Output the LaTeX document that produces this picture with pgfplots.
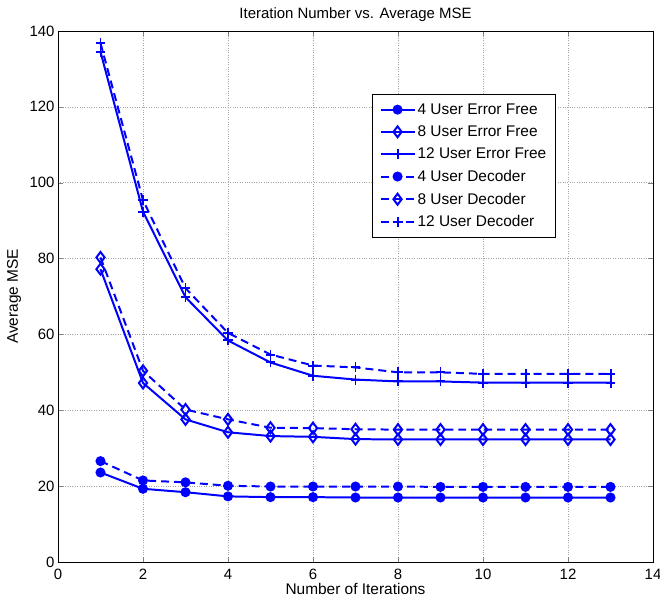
\documentclass[border=0pt]{standalone}
\usepackage{fontspec}
\setmainfont{Liberation Sans}
\usepackage{pgfplots}
\pgfplotsset{compat=1.18}
\begin{document}
\begin{tikzpicture}
\begin{axis}[
  scale only axis,
  width=595bp, height=531bp,
  xmin=0, xmax=14, ymin=0, ymax=140,
  xtick={0,2,...,14}, ytick={0,20,...,140},
  /pgf/number format/assume math mode=true,
  tick label style={font=\fontsize{15}{17}\selectfont},
  title style={font=\fontsize{15}{17}\selectfont, at={(axis description cs:0.5,1.032)}, anchor=center, yshift=-7bp},
  title={Iteration Number vs. Average MSE},
  xlabel={Number of Iterations},
  ylabel={Average MSE},
  xlabel style={font=\fontsize{15.5}{17}\selectfont, at={(axis description cs:0.5,-0.051)}, anchor=center},
  ylabel style={font=\fontsize{15.5}{17}\selectfont, at={(axis description cs:-0.074,0.5)}, anchor=center},
  xticklabel style={yshift=-4bp},
  grid=major,
  major grid style={gray!70, dotted, line width=0.6pt},
  tick align=inside,
  tick pos=both,
  major tick length=5bp,
  axis line style={line width=0.8pt},
  legend style={at={(0.528,0.881)}, anchor=north west, draw=black, line width=0.8pt,
    font=\fontsize{15.5}{17}\selectfont, row sep=6bp, inner xsep=7bp, inner ysep=7bp},
  legend cell align=left,
  legend image code/.code={
    \draw[mark repeat=2,mark phase=2,#1] plot coordinates {(0cm,0cm) (0.6cm,0cm) (1.2cm,0cm)};},
  every axis plot/.append style={blue, line width=2pt},
]
\addplot[mark=*, mark size=4pt, solid] coordinates {(1,23.6)(2,19.3)(3,18.4)(4,17.3)(5,17.1)(6,17.1)(7,17.0)(8,17.0)(9,17.0)(10,17.0)(11,17.0)(12,17.0)(13,17.0)};
\addlegendentry{4 User Error Free}
\addplot[mark=diamond, mark size=5.5pt, mark options={solid}, solid] coordinates {(1,77.2)(2,47.2)(3,37.6)(4,34.2)(5,33.2)(6,33.0)(7,32.4)(8,32.3)(9,32.3)(10,32.3)(11,32.3)(12,32.3)(13,32.3)};
\addlegendentry{8 User Error Free}
\addplot[mark=+, mark size=5pt, mark options={solid}, solid] coordinates {(1,134.5)(2,92.4)(3,69.8)(4,58.4)(5,52.6)(6,49.1)(7,48.1)(8,47.6)(9,47.6)(10,47.3)(11,47.3)(12,47.3)(13,47.3)};
\addlegendentry{12 User Error Free}
\addplot[mark=*, mark size=4pt, mark options={solid}, dash pattern=on 8pt off 5pt] coordinates {(1,26.6)(2,21.5)(3,21.0)(4,20.1)(5,19.9)(6,19.9)(7,19.9)(8,19.9)(9,19.8)(10,19.8)(11,19.8)(12,19.8)(13,19.8)};
\addlegendentry{4 User Decoder}
\addplot[mark=diamond, mark size=5.5pt, mark options={solid}, dash pattern=on 8pt off 5pt] coordinates {(1,80.3)(2,50.4)(3,40.2)(4,37.6)(5,35.4)(6,35.3)(7,35.0)(8,34.9)(9,34.9)(10,34.9)(11,34.9)(12,34.9)(13,34.9)};
\addlegendentry{8 User Decoder}
\addplot[mark=+, mark size=5pt, mark options={solid}, dash pattern=on 8pt off 5pt] coordinates {(1,136.8)(2,95.4)(3,72.2)(4,60.4)(5,54.7)(6,51.8)(7,51.3)(8,50.0)(9,50.0)(10,49.6)(11,49.6)(12,49.6)(13,49.6)};
\addlegendentry{12 User Decoder}
\end{axis}
\pgfresetboundingbox
\path[use as bounding box] ([shift={(-58bp,-40bp)}]current axis.south west) rectangle ([shift={(7bp,31bp)}]current axis.north east);
\end{tikzpicture}
\end{document}
